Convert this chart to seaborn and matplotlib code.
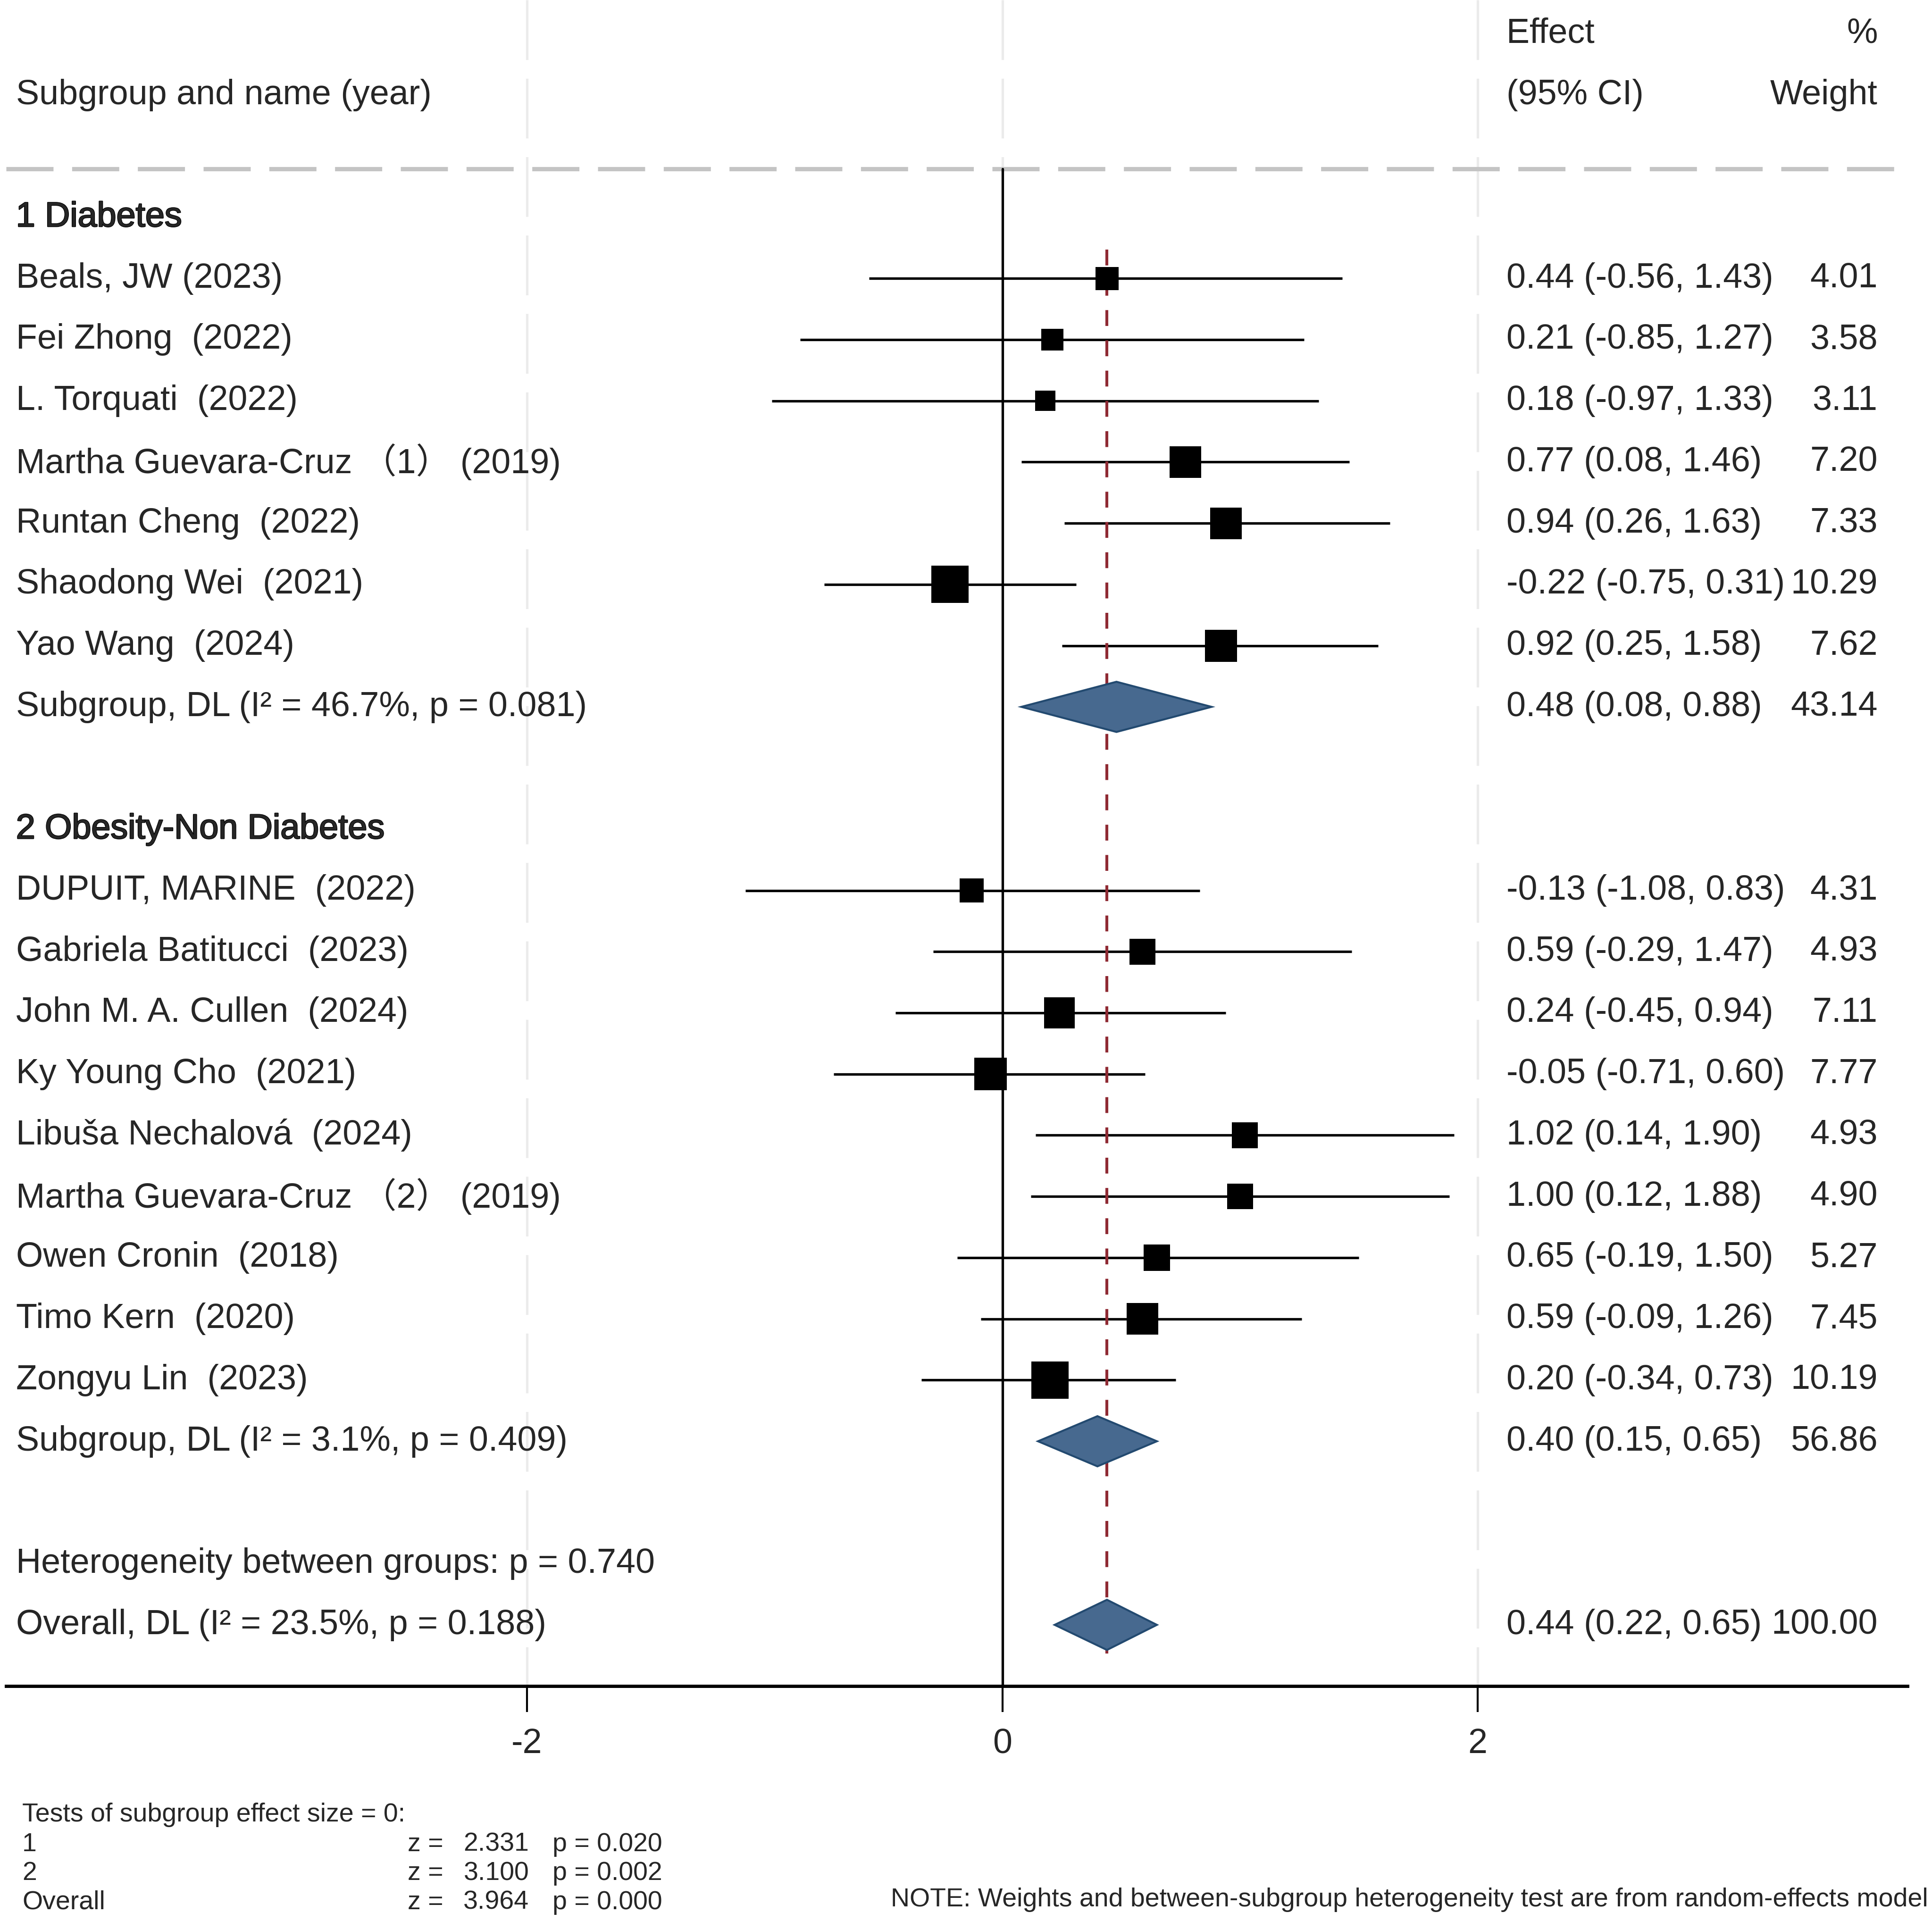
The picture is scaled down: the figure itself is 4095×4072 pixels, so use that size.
import numpy as np
import pandas as pd
import seaborn as sns
import matplotlib.pyplot as plt
import matplotlib.patheffects as pe

sns.set_style("white")
plt.rcParams["font.family"] = ["Liberation Sans", "Noto Sans CJK SC", "DejaVu Sans"]

# Studies of subgroup 1 (Diabetes)
names1 = ["Beals, JW (2023)", "Fei Zhong  (2022)", "L. Torquati  (2022)",
          "Martha Guevara-Cruz （1） (2019)", "Runtan Cheng  (2022)",
          "Shaodong Wei  (2021)", "Yao Wang  (2024)"]
eff1 = [0.44, 0.21, 0.18, 0.77, 0.94, -0.22, 0.92]
lo1 = [-0.56, -0.85, -0.97, 0.08, 0.26, -0.75, 0.25]
hi1 = [1.43, 1.27, 1.33, 1.46, 1.63, 0.31, 1.58]
w1 = [4.01, 3.58, 3.11, 7.20, 7.33, 10.29, 7.62]

# Studies of subgroup 2 (Obesity-Non Diabetes)
names2 = ["DUPUIT, MARINE  (2022)", "Gabriela Batitucci  (2023)",
          "John M. A. Cullen  (2024)", "Ky Young Cho  (2021)",
          "Libuša Nechalová  (2024)", "Martha Guevara-Cruz （2） (2019)",
          "Owen Cronin  (2018)", "Timo Kern  (2020)", "Zongyu Lin  (2023)"]
eff2 = [-0.13, 0.59, 0.24, -0.05, 1.02, 1.00, 0.65, 0.59, 0.20]
lo2 = [-1.08, -0.29, -0.45, -0.71, 0.14, 0.12, -0.19, -0.09, -0.34]
hi2 = [0.83, 1.47, 0.94, 0.60, 1.90, 1.88, 1.50, 1.26, 0.73]
w2 = [4.31, 4.93, 7.11, 7.77, 4.93, 4.90, 5.27, 7.45, 10.19]

# pooled estimates
group_titles = ["1 Diabetes", "2 Obesity-Non Diabetes"]
sub_labels = ["Subgroup, DL (I² = 46.7%, p = 0.081)", "Subgroup, DL (I² = 3.1%, p = 0.409)"]
sub_eff = [0.48, 0.40]
sub_lo = [0.08, 0.15]
sub_hi = [0.88, 0.65]
sub_w = [43.14, 56.86]

overall_label = "Overall, DL (I² = 23.5%, p = 0.188)"
overall_eff, overall_lo, overall_hi, overall_w = 0.44, 0.22, 0.65, 100.00
het_label = "Heterogeneity between groups: p = 0.740"

test_names = ["1", "2", "Overall"]
test_z = [2.331, 3.100, 3.964]
test_p = [0.020, 0.002, 0.000]
note = "NOTE: Weights and between-subgroup heterogeneity test are from random-effects model"

# Zeilenpositionen
rows1 = list(range(1, 1 + len(names1)))
sub_rows = [len(names1) + 1, 0]
g2_head = sub_rows[0] + 2
rows2 = list(range(g2_head + 1, g2_head + 1 + len(names2)))
sub_rows[1] = rows2[-1] + 1
head_rows = [0, g2_head]
het_row = sub_rows[1] + 2
overall_row = het_row + 1

df = pd.DataFrame({
    "name": names1 + names2,
    "eff": eff1 + eff2,
    "lo": lo1 + lo2,
    "hi": hi1 + hi2,
    "w": w1 + w2,
    "row": rows1 + rows2,
})

fig = plt.figure(figsize=(20.475, 20.36), dpi=200)
ax = fig.add_axes([0.0032, 0.1223, 0.984, 0.8777])
ax.set_xlim(-4.191, 3.807)
ax.set_ylim(overall_row + 1.0, -3.55)

fs = 26.5
x_name = -4.15
x_eff = 2.12
x_w = 3.682
hline_y = -0.79

# Gitterlinien
for gx in [-2, 2]:
    ax.plot([gx, gx], [-3.55, overall_row + 1.0], color="#ebebeb", lw=1.9,
            dashes=(24, 7.5), zorder=0)
ax.plot([0, 0], [-3.55, hline_y], color="#ebebeb", lw=1.9, dashes=(24, 7.5), zorder=0)
ax.plot([-4.191, 3.807], [hline_y, hline_y], color="#c4c4c4", lw=3.3,
        dashes=(10.9, 4.3), zorder=1)
ax.plot([0, 0], [hline_y, overall_row + 1.0], color="black", lw=1.9, zorder=2)

# Konfidenzintervalle
ax.hlines(df["row"], df["lo"], df["hi"], color="black", lw=1.9, zorder=3)

# Quadrate (Fläche ~ Gewicht)
sns.scatterplot(data=df, x="eff", y="row", marker="s", color="black",
                s=df["w"] * 78.7, linewidth=0, ax=ax, zorder=4, legend=False)

# Rauten
diamond_h = 0.41
for e, l, h, r in zip(sub_eff + [overall_eff], sub_lo + [overall_lo],
                      sub_hi + [overall_hi], sub_rows + [overall_row]):
    ax.fill([l, e, h, e], [r, r - diamond_h, r, r + diamond_h],
            facecolor="#47698f", edgecolor="#234a70", lw=1.5, zorder=5)

# Linie des Gesamteffekts
ax.plot([overall_eff, overall_eff], [rows1[0] - 0.47, overall_row + 0.47],
        color="#8f2a33", lw=2.2, dashes=(5.5, 5), zorder=3.5)

# Kopfzeile
ax.text(x_name, -2, "Subgroup and name (year)", fontsize=fs, va="center", ha="left")
ax.text(x_eff, -3, "Effect", fontsize=fs, va="center", ha="left")
ax.text(x_eff, -2, "(95% CI)", fontsize=fs, va="center", ha="left")
ax.text(x_w, -3, "%", fontsize=fs, va="center", ha="right")
ax.text(x_w, -2, "Weight", fontsize=fs, va="center", ha="right")

for t, r in zip(group_titles, head_rows):
    ax.text(x_name, r, t, fontsize=fs, va="center", ha="left",
            path_effects=[pe.withStroke(linewidth=0.9, foreground="black")])

for _, d in df.iterrows():
    ax.text(x_name, d["row"], d["name"], fontsize=fs, va="center", ha="left")
    ax.text(x_eff, d["row"], f"{d['eff']:.2f} ({d['lo']:.2f}, {d['hi']:.2f})",
            fontsize=fs, va="center", ha="left")
    ax.text(x_w, d["row"], f"{d['w']:.2f}", fontsize=fs, va="center", ha="right")

for t, e, l, h, w, r in zip(sub_labels, sub_eff, sub_lo, sub_hi, sub_w, sub_rows):
    ax.text(x_name, r, t, fontsize=fs, va="center", ha="left")
    ax.text(x_eff, r, f"{e:.2f} ({l:.2f}, {h:.2f})", fontsize=fs, va="center", ha="left")
    ax.text(x_w, r, f"{w:.2f}", fontsize=fs, va="center", ha="right")

ax.text(x_name, het_row, het_label, fontsize=fs, va="center", ha="left")
ax.text(x_name, overall_row, overall_label, fontsize=fs, va="center", ha="left")
ax.text(x_eff, overall_row, f"{overall_eff:.2f} ({overall_lo:.2f}, {overall_hi:.2f})",
        fontsize=fs, va="center", ha="left")
ax.text(x_w, overall_row, f"{overall_w:.2f}", fontsize=fs, va="center", ha="right")

# Achsen
for s in ["left", "right", "top"]:
    ax.spines[s].set_visible(False)
ax.spines["bottom"].set_linewidth(2.5)
ax.spines["bottom"].set_color("black")
ax.set_yticks([])
ax.set_xticks([-2, 0, 2])
ax.set_xticklabels(["-2", "0", "2"])
ax.tick_params(axis="x", length=19.8, width=1.5, pad=12, labelsize=fs, color="black",
               bottom=True)
ax.set_xlabel("")
ax.set_ylabel("")

# Fußnoten
sfs = 20
fig.text(0.0115, 0.0553, "Tests of subgroup effect size = 0:", fontsize=sfs, va="center")
for i, (n, z, p) in enumerate(zip(test_names, test_z, test_p)):
    yy = 0.0399 - i * 0.0151
    fig.text(0.0115, yy, n, fontsize=sfs, va="center")
    fig.text(0.2111, yy, "z =", fontsize=sfs, va="center")
    fig.text(0.2738, yy, f"{z:.3f}", fontsize=sfs, va="center", ha="right")
    fig.text(0.286, yy, f"p = {p:.3f}", fontsize=sfs, va="center")
fig.text(0.998, 0.011, note, fontsize=sfs, va="center", ha="right")

plt.savefig("out.png", dpi=200)
